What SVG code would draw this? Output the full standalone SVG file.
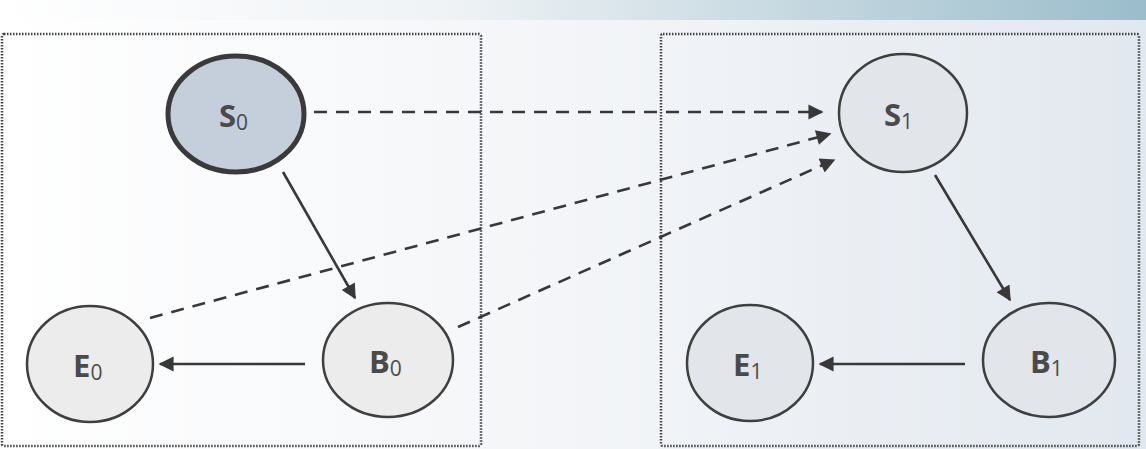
<svg xmlns="http://www.w3.org/2000/svg" width="1146" height="449" viewBox="0 0 1146 449">
<defs>
<linearGradient id="bg" x1="0" y1="0" x2="1" y2="0">
<stop offset="0" stop-color="#ffffff"/>
<stop offset="0.5" stop-color="#f3f5f8"/>
<stop offset="1" stop-color="#e2e8ef"/>
</linearGradient>
<linearGradient id="band" x1="0" y1="0" x2="1" y2="0">
<stop offset="0" stop-color="#ffffff"/>
<stop offset="0.4" stop-color="#eef2f5"/>
<stop offset="1" stop-color="#9bbdcb"/>
</linearGradient>
<marker id="ah" viewBox="0 0 10 10" refX="9" refY="5" markerWidth="7.2" markerHeight="5.8" markerUnits="strokeWidth" orient="auto">
<path d="M0,0 L10,5 L0,10 z" fill="#383838"/>
</marker>
<style>
.box{fill:none;stroke:#444;stroke-width:2.5;stroke-dasharray:1.5 1.5}
.nd{stroke:#3f3f3f;stroke-width:2.5}
.lt{fill:#ececec}
.bl{fill:#e2e5e9}
.lbl{font-family:"Open Sans","Liberation Sans",sans-serif;font-weight:bold;font-size:31px;fill:#4a4a4a}
.sub{font-weight:normal;font-size:21px}
.ed{stroke:#383838;stroke-width:2.6;fill:none;marker-end:url(#ah)}
.dsh{stroke-dasharray:13 9}
</style>
</defs>
<rect x="0" y="0" width="1146" height="449" fill="url(#bg)"/>
<rect x="0" y="0" width="1146" height="20" fill="url(#band)"/>
<rect class="box" x="2" y="34" width="479" height="412" rx="2"/>
<rect class="box" x="661" y="34" width="478" height="412" rx="2"/>
<g id="connectors">
<line class="ed dsh" x1="314" y1="112" x2="822" y2="112"/>
<line class="ed dsh" x1="150" y1="318" x2="830" y2="134"/>
<line class="ed dsh" x1="458" y1="327" x2="834" y2="160"/>
<line class="ed" x1="283" y1="172" x2="355" y2="298"/>
<line class="ed" x1="305" y1="364" x2="160" y2="364"/>
<line class="ed" x1="935" y1="175" x2="1010" y2="300"/>
<line class="ed" x1="965" y1="364" x2="820" y2="364"/>
</g>
<g id="S0">
<ellipse cx="236" cy="114" rx="68" ry="58" fill="#c5cedb" stroke="#3a3a3a" stroke-width="5"/>
<text class="lbl" x="219" y="127">S<tspan class="sub" dy="3">0</tspan></text>
</g>
<g id="E0">
<ellipse class="nd lt" cx="90" cy="364" rx="63" ry="58"/>
<text class="lbl" x="73" y="377">E<tspan class="sub" dy="3">0</tspan></text>
</g>
<g id="B0">
<ellipse class="nd lt" cx="388" cy="360" rx="65" ry="57"/>
<text class="lbl" x="369" y="373">B<tspan class="sub" dy="3">0</tspan></text>
</g>
<g id="S1">
<ellipse class="nd bl" cx="903" cy="113" rx="64" ry="59"/>
<text class="lbl" x="884" y="126">S<tspan class="sub" dy="3">1</tspan></text>
</g>
<g id="E1">
<ellipse class="nd bl" cx="750" cy="363" rx="63" ry="58"/>
<text class="lbl" x="733" y="376">E<tspan class="sub" dy="3">1</tspan></text>
</g>
<g id="B1">
<ellipse class="nd bl" cx="1049" cy="360" rx="66" ry="57"/>
<text class="lbl" x="1030" y="373">B<tspan class="sub" dy="3">1</tspan></text>
</g>
</svg>
